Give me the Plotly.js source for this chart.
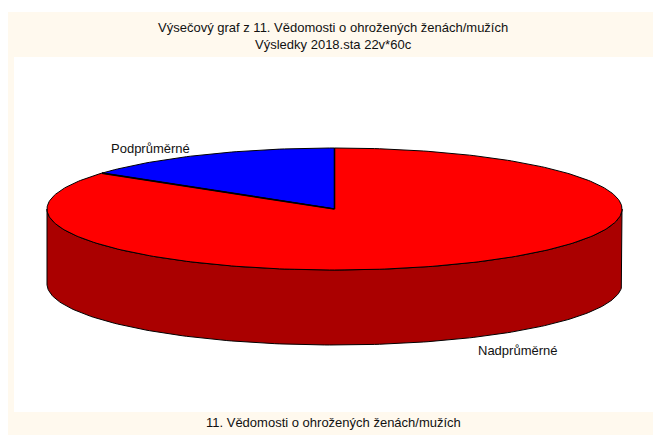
<!DOCTYPE html>
<html>
<head>
<meta charset="utf-8">
<script src="https://cdn.plot.ly/plotly-3.0.1.min.js"></script>
<style>html,body{margin:0;padding:0;background:#fff;}#chart{width:653px;height:435px;}</style>
</head>
<body>
<div id="chart"></div>
<script>
// ---- data ----
const categories = ["Podprůměrné", "Nadprůměrné"];
const counts = [9, 51];
const sliceColors = ["#0000FF", "#FF0000"];
const sideColors = ["#0000AA", "#AA0000"];
const titleLines = ["Výsečový graf z 11. Vědomosti o ohrožených ženách/mužích", "Výsledky 2018.sta 22v*60c"];
const footerText = "11. Vědomosti o ohrožených ženách/mužích";

// ---- geometry (pixel space) ----
const W = 653, H = 435;
const cx = 334.5, cy = 209, rx = 287.5, ry = 61, depth = 75;
const startDeg = 90; // first slice starts at top, goes counter-clockwise

const total = counts.reduce((a, b) => a + b, 0);
function pt(deg, dy) {
  const t = deg * Math.PI / 180;
  return [cx + rx * Math.cos(t), cy - ry * Math.sin(t) + (dy || 0)];
}
function arc(a0, a1, dy) {
  const pts = [];
  const n = Math.max(2, Math.ceil(Math.abs(a1 - a0) / 1));
  for (let i = 0; i <= n; i++) pts.push(pt(a0 + (a1 - a0) * i / n, dy));
  return pts;
}

const traces = [];
const slices = [];
let a = startDeg;
counts.forEach((c, i) => {
  const span = 360 * c / total;
  slices.push({i, a0: a, a1: a + span});
  a += span;
});

// side walls (visible front half)
slices.forEach(s => {
  [[180, 360], [540, 720]].forEach(([lo, hi]) => {
    const b0 = Math.max(s.a0, lo), b1 = Math.min(s.a1, hi);
    if (b1 > b0) {
      const top = arc(b0, b1, 0);
      const bot = arc(b1, b0, depth);
      const all = top.concat(bot);
      all.push(top[0]);
      traces.push({
        type: "scatter", mode: "lines", fill: "toself",
        x: all.map(p => p[0]), y: all.map(p => p[1]),
        fillcolor: sideColors[s.i], line: {color: "#000", width: 1},
        hoverinfo: "skip", showlegend: false
      });
    }
  });
});

// top faces
slices.forEach(s => {
  const pts = [[cx, cy]].concat(arc(s.a0, s.a1, 0));
  pts.push([cx, cy]);
  traces.push({
    type: "scatter", mode: "lines", fill: "toself",
    x: pts.map(p => p[0]), y: pts.map(p => p[1]),
    fillcolor: sliceColors[s.i], line: {color: "#000", width: 1},
    hoverinfo: "skip", showlegend: false
  });
});
// radial edges
slices.forEach(s => {
  const p = pt(s.a0, 0);
  traces.push({
    type: "scatter", mode: "lines",
    x: [cx, p[0]], y: [cy, p[1]],
    line: {color: "#000", width: 1.6},
    hoverinfo: "skip", showlegend: false
  });
});

const FONT = {family: "Liberation Sans, Arial, sans-serif", size: 13, color: "#111"};
const labelPos = [[150, 148], [518, 350]];
const annotations = categories.map((c, i) => ({
  x: labelPos[i][0], y: labelPos[i][1], xref: "x", yref: "y",
  text: c, showarrow: false, xanchor: "center", yanchor: "middle", font: FONT
}));
annotations.push({
  x: 333, y: 36, xref: "x", yref: "y",
  text: titleLines.join("<br>"), showarrow: false, xanchor: "center", yanchor: "middle", font: FONT
});
annotations.push({
  x: 333, y: 422, xref: "x", yref: "y",
  text: footerText, showarrow: false, xanchor: "center", yanchor: "middle", font: FONT
});

const layout = {
  width: W, height: H,
  margin: {l: 0, r: 0, t: 0, b: 0},
  paper_bgcolor: "#fff", plot_bgcolor: "rgba(0,0,0,0)",
  xaxis: {range: [0, W], visible: false, fixedrange: true},
  yaxis: {range: [H, 0], visible: false, fixedrange: true},
  showlegend: false,
  shapes: [
    {type: "rect", xref: "x", yref: "y", x0: 8, y0: 12, x1: W, y1: H, fillcolor: "#FFF9EE", line: {width: 0}, layer: "below"},
    {type: "rect", xref: "x", yref: "y", x0: 14, y0: 57, x1: W, y1: 412, fillcolor: "#FFFFFF", line: {width: 0}, layer: "below"}
  ],
  annotations: annotations
};

Plotly.newPlot("chart", traces, layout, {staticPlot: true, displayModeBar: false});
</script>
</body>
</html>
